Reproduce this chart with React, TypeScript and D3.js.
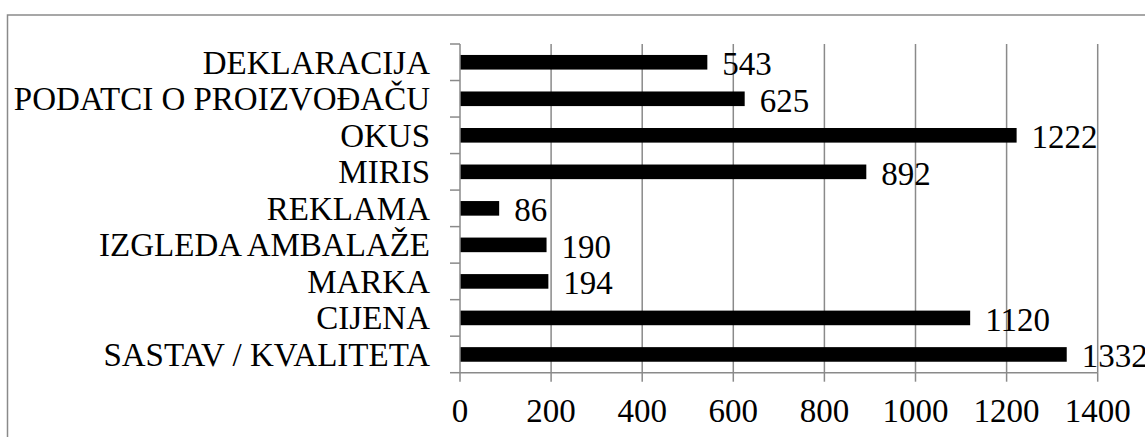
import React, { useEffect, useRef } from "react";
import * as d3 from "d3";

// categories top to bottom, as shown in the chart
const categories = [
  "DEKLARACIJA",
  "PODATCI O PROIZVOĐAČU",
  "OKUS",
  "MIRIS",
  "REKLAMA",
  "IZGLEDA AMBALAŽE",
  "MARKA",
  "CIJENA",
  "SASTAV / KVALITETA",
];
const values = [543, 625, 1222, 892, 86, 190, 194, 1120, 1332];
const xTicks = [0, 200, 400, 600, 800, 1000, 1200, 1400];

const App: React.FC = () => {
  const svgRef = useRef<SVGSVGElement | null>(null);

  useEffect(() => {
    if (!svgRef.current) return;
    const width = 1145;
    const height = 437;
    const plot = { left: 460, right: 1097.7, top: 44, bottom: 372.7 };
    const gray = "#8a8a8a";
    const fs = 33;

    const svg = d3.select(svgRef.current);
    svg.selectAll("*").remove();
    svg.attr("width", width).attr("height", height);

    // outer chart border (runs past the right and bottom edges)
    svg
      .append("rect")
      .attr("x", 7.5)
      .attr("y", 15)
      .attr("width", 1300)
      .attr("height", 600)
      .attr("fill", "white")
      .attr("stroke", gray)
      .attr("stroke-width", 1.5);

    const x = d3.scaleLinear().domain([0, 1400]).range([plot.left, plot.right]);
    const slots = d3
      .scaleBand<string>()
      .domain(categories)
      .range([plot.top, plot.bottom])
      .padding(0);
    const bars = d3
      .scaleBand<string>()
      .domain(categories)
      .range([plot.top, plot.bottom])
      .paddingInner(0.6)
      .paddingOuter(0.3);

    // vertical gridlines
    svg
      .append("g")
      .selectAll("line")
      .data(xTicks.slice(1))
      .join("line")
      .attr("x1", d => x(d))
      .attr("x2", d => x(d))
      .attr("y1", plot.top)
      .attr("y2", plot.bottom)
      .attr("stroke", gray)
      .attr("stroke-width", 1.5);

    // bars
    svg
      .append("g")
      .selectAll("rect")
      .data(categories)
      .join("rect")
      .attr("x", x(0))
      .attr("y", d => bars(d)!)
      .attr("width", (d, i) => x(values[i]) - x(0))
      .attr("height", bars.bandwidth())
      .attr("fill", "#000");

    // axes
    const axisG = svg.append("g").attr("stroke", gray).attr("stroke-width", 1.5);
    axisG
      .append("line")
      .attr("x1", plot.left)
      .attr("x2", plot.left)
      .attr("y1", plot.top)
      .attr("y2", plot.bottom);
    axisG
      .append("line")
      .attr("x1", plot.left)
      .attr("x2", plot.right)
      .attr("y1", plot.bottom)
      .attr("y2", plot.bottom);
    const boundaries = categories.map(c => slots(c)!).concat([plot.bottom]);
    axisG
      .selectAll("line.ytick")
      .data(boundaries)
      .join("line")
      .attr("class", "ytick")
      .attr("x1", plot.left - 10)
      .attr("x2", plot.left)
      .attr("y1", d => d)
      .attr("y2", d => d);
    axisG
      .selectAll("line.xtick")
      .data(xTicks)
      .join("line")
      .attr("class", "xtick")
      .attr("x1", d => x(d))
      .attr("x2", d => x(d))
      .attr("y1", plot.bottom)
      .attr("y2", plot.bottom + 9);

    const text = svg.append("g").attr("font-size", fs).attr("fill", "#000");

    // category labels
    text
      .append("g")
      .selectAll("text")
      .data(categories)
      .join("text")
      .attr("x", 430)
      .attr("y", d => slots(d)! + slots.bandwidth() / 2 + 11.5)
      .attr("text-anchor", "end")
      .text(d => d);

    // x tick labels
    text
      .append("g")
      .selectAll("text")
      .data(xTicks)
      .join("text")
      .attr("x", d => x(d))
      .attr("y", 421.5)
      .attr("text-anchor", "middle")
      .text(d => String(d));

    // value labels
    text
      .append("g")
      .selectAll("text")
      .data(categories)
      .join("text")
      .attr("x", (d, i) => x(values[i]) + 15)
      .attr("y", d => slots(d)! + slots.bandwidth() / 2 + 13)
      .text((d, i) => String(values[i]));
  }, []);

  return (
    <div style={{ position: "absolute", left: 0, top: 0, width: 1145, height: 437, overflow: "hidden", background: "#fff" }}>
      <svg
        ref={svgRef}
        style={{ display: "block", fontFamily: '"Liberation Serif", "Times New Roman", Times, serif' }}
      ></svg>
    </div>
  );
};

export default App;
